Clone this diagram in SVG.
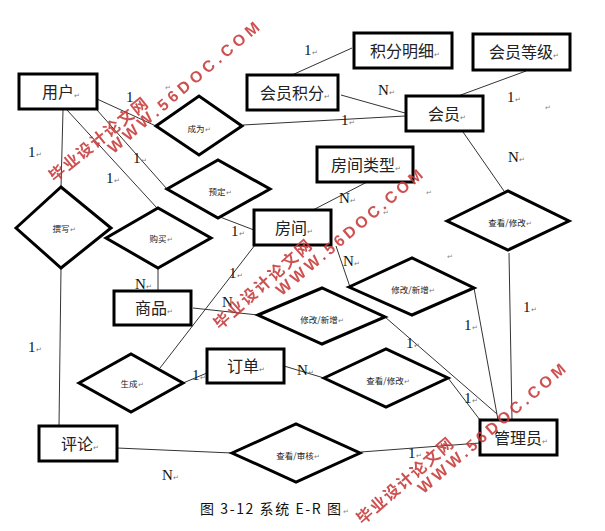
<svg xmlns="http://www.w3.org/2000/svg" width="605" height="531" viewBox="0 0 605 531">
<style>
.box{fill:#fff;stroke:#000;stroke-width:3}
.dia{fill:#fff;stroke:#000;stroke-width:3;stroke-linejoin:miter}
.nt{font-family:"Noto Sans CJK SC","Noto Sans",sans-serif;font-size:16px;fill:#222;text-anchor:middle}
.dt{font-family:"Noto Sans CJK SC","Noto Sans",sans-serif;font-size:8.5px;fill:#222;text-anchor:middle}
.lb{font-family:"Liberation Serif",serif;font-size:15px;fill:#111}
.rt{font-size:7px;fill:#777}
.st{font-family:"DejaVu Sans",sans-serif;font-size:7px;fill:#888}
#connectors line{stroke:#333;stroke-width:1}
.wm{fill:#c83a3a;opacity:0.88;font-weight:bold}
.wc{font-family:"Noto Sans CJK SC",sans-serif;font-size:16px}
.we{font-family:"Liberation Sans",sans-serif;font-size:16px}
</style>
<rect width="605" height="531" fill="#fff"/>

<g id="connectors">
<line x1="97" y1="99" x2="156" y2="126"/>
<line x1="243" y1="125" x2="405" y2="116"/>
<line x1="341" y1="95" x2="405" y2="113"/>
<line x1="292" y1="75" x2="352" y2="48"/>
<line x1="526" y1="71" x2="458" y2="96"/>
<line x1="463" y1="132" x2="504" y2="191"/>
<line x1="509" y1="253" x2="512" y2="420"/>
<line x1="474" y1="288" x2="498" y2="420"/>
<line x1="336" y1="246" x2="350" y2="287"/>
<line x1="367" y1="182" x2="313" y2="210"/>
<line x1="63" y1="110" x2="61" y2="188"/>
<line x1="67" y1="110" x2="157" y2="208"/>
<line x1="97" y1="110" x2="167" y2="189"/>
<line x1="220" y1="217" x2="254" y2="230"/>
<line x1="158" y1="268" x2="158" y2="291"/>
<line x1="61" y1="268" x2="59" y2="426"/>
<line x1="193" y1="308" x2="258" y2="315"/>
<line x1="385" y1="317" x2="497" y2="414"/>
<line x1="160" y1="368" x2="255" y2="245"/>
<line x1="183" y1="383" x2="207" y2="373"/>
<line x1="284" y1="366" x2="324" y2="378"/>
<line x1="448" y1="378" x2="480" y2="420"/>
<line x1="117" y1="448" x2="232" y2="453"/>
<line x1="361" y1="452" x2="480" y2="443"/>
</g>

<g id="user"><rect class="box" x="19" y="74" width="78" height="35"/><text class="nt" x="61" y="98">用户<tspan class="rt">↵</tspan></text></g>
<g id="points"><rect class="box" x="247" y="75" width="91" height="35"/><text class="nt" x="295" y="99">会员积分<tspan class="rt">↵</tspan></text></g>
<g id="pointsDetail"><rect class="box" x="354" y="33" width="98" height="35"/><text class="nt" x="405" y="57">积分明细<tspan class="rt">↵</tspan></text></g>
<g id="memberLevel"><rect class="box" x="473" y="34" width="97" height="36"/><text class="nt" x="524" y="58">会员等级<tspan class="rt">↵</tspan></text></g>
<g id="member"><rect class="box" x="406" y="96" width="77" height="35"/><text class="nt" x="447" y="120">会员<tspan class="rt">↵</tspan></text></g>
<g id="roomType"><rect class="box" x="317" y="147" width="96" height="35"/><text class="nt" x="366" y="171">房间类型<tspan class="rt">↵</tspan></text></g>
<g id="room"><rect class="box" x="254" y="210" width="77" height="35"/><text class="nt" x="294" y="234">房间<tspan class="rt">↵</tspan></text></g>
<g id="goods"><rect class="box" x="114" y="291" width="77" height="34"/><text class="nt" x="154" y="314">商品<tspan class="rt">↵</tspan></text></g>
<g id="order"><rect class="box" x="207" y="349" width="77" height="34"/><text class="nt" x="246" y="372">订单<tspan class="rt">↵</tspan></text></g>
<g id="comment"><rect class="box" x="39" y="426" width="78" height="35"/><text class="nt" x="80" y="450">评论<tspan class="rt">↵</tspan></text></g>
<g id="admin"><rect class="box" x="480" y="420" width="77" height="35"/><text class="nt" x="521" y="444">管理员<tspan class="rt">↵</tspan></text></g>

<g id="becomes"><polygon class="dia" points="156,126 199,96 242,126 199,155"/><text class="dt" x="199" y="132">成为<tspan class="rt">↵</tspan></text></g>
<g id="reserve"><polygon class="dia" points="167,189 218,160 270,189 218,218"/><text class="dt" x="220" y="195">预定<tspan class="rt">↵</tspan></text></g>
<g id="write"><polygon class="dia" points="16,228 61,187 111,228 61,268"/><text class="dt" x="64" y="232">撰写<tspan class="rt">↵</tspan></text></g>
<g id="buy"><polygon class="dia" points="106,238 158,208 211,238 158,268"/><text class="dt" x="161" y="242">购买<tspan class="rt">↵</tspan></text></g>
<g id="editAdd1"><polygon class="dia" points="258,315 322,288 385,317 322,344"/><text class="dt" x="322" y="323">修改/新增<tspan class="rt">↵</tspan></text></g>
<g id="editAdd2"><polygon class="dia" points="349,287 412,258 474,288 412,315"/><text class="dt" x="413" y="293">修改/新增<tspan class="rt">↵</tspan></text></g>
<g id="viewEdit1"><polygon class="dia" points="447,221 508,191 569,221 508,250"/><text class="dt" x="510" y="226">查看/修改<tspan class="rt">↵</tspan></text></g>
<g id="generate"><polygon class="dia" points="79,383 131,354 183,383 131,412"/><text class="dt" x="132" y="387">生成<tspan class="rt">↵</tspan></text></g>
<g id="viewEdit2"><polygon class="dia" points="324,378 386,349 448,378 386,407"/><text class="dt" x="388" y="384">查看/修改<tspan class="rt">↵</tspan></text></g>
<g id="viewReview"><polygon class="dia" points="232,453 296,424 360,453 296,482"/><text class="dt" x="298" y="459">查看/审核<tspan class="rt">↵</tspan></text></g>

<g id="labels">
<text class="lb" x="304" y="55">1<tspan class="rt">↵</tspan></text>
<text class="lb" x="378" y="95">N<tspan class="rt">↵</tspan></text>
<text class="lb" x="341" y="125">1<tspan class="rt">↵</tspan></text>
<text class="lb" x="507" y="102">1<tspan class="rt">↵</tspan></text>
<text class="lb" x="508" y="162">N<tspan class="rt">↵</tspan></text>
<text class="lb" x="126" y="102">1</text>
<text class="lb" x="133" y="163">1<tspan class="rt">↵</tspan></text>
<text class="lb" x="106" y="183">1<tspan class="rt">↵</tspan></text>
<text class="lb" x="28" y="157">1<tspan class="rt">↵</tspan></text>
<text class="lb" x="231" y="236">1<tspan class="rt">↵</tspan></text>
<text class="lb" x="339" y="203">N<tspan class="rt">↵</tspan></text>
<text class="lb" x="343" y="266">N<tspan class="rt">↵</tspan></text>
<text class="lb" x="229" y="278">1<tspan class="rt">↵</tspan></text>
<text class="lb" x="135" y="289">N<tspan class="rt">↵</tspan></text>
<text class="lb" x="222" y="307">N</text>
<text class="lb" x="28" y="352">1<tspan class="rt">↵</tspan></text>
<text class="lb" x="192" y="380">1<tspan class="rt">↵</tspan></text>
<text class="lb" x="297" y="375">N<tspan class="rt">↵</tspan></text>
<text class="lb" x="406" y="348">1<tspan class="rt">↵</tspan></text>
<text class="lb" x="464" y="330">1<tspan class="rt">↵</tspan></text>
<text class="lb" x="523" y="312">1<tspan class="rt">↵</tspan></text>
<text class="lb" x="464" y="403">1<tspan class="rt">↵</tspan></text>
<text class="lb" x="162" y="480">N<tspan class="rt">↵</tspan></text>
<text class="lb" x="408" y="458">1<tspan class="rt">↵</tspan></text>
</g>

<g id="marks">
<text class="st" x="165" y="90">↵</text>
<text class="st" x="545" y="110">↵</text>
<text class="st" x="426" y="195">↵</text>
<text class="st" x="383" y="215">↵</text>
<text class="st" x="447" y="259">↵</text>
</g>

<g id="caption">
<text x="200" y="514" font-family="'Noto Sans CJK SC','Noto Sans',sans-serif" font-size="14" fill="#111" textLength="141" lengthAdjust="spacing">图 3-12 系统 E-R 图</text>
<text class="st" x="343" y="514">↵</text>
</g>

<g id="watermarks" class="wm">
<text class="wc" transform="translate(50,177) rotate(-39)" dominant-baseline="central" textLength="122" lengthAdjust="spacing">毕业设计论文网</text>
<text class="we" transform="translate(110,150) rotate(-40.4)" dominant-baseline="central" textLength="193" lengthAdjust="spacing">WWW.56DOC.COM</text>
<text class="wc" transform="translate(215,325) rotate(-41.7)" dominant-baseline="central" textLength="125" lengthAdjust="spacing">毕业设计论文网</text>
<text class="we" transform="translate(278,292) rotate(-40)" dominant-baseline="central" textLength="186" lengthAdjust="spacing">WWW.56DOC.COM</text>
<text class="wc" transform="translate(358,520) rotate(-41)" dominant-baseline="central" textLength="122" lengthAdjust="spacing">毕业设计论文网</text>
<text class="we" transform="translate(420,490) rotate(-40.7)" dominant-baseline="central" textLength="189" lengthAdjust="spacing">WWW.56DOC.COM</text>
</g>
</svg>
